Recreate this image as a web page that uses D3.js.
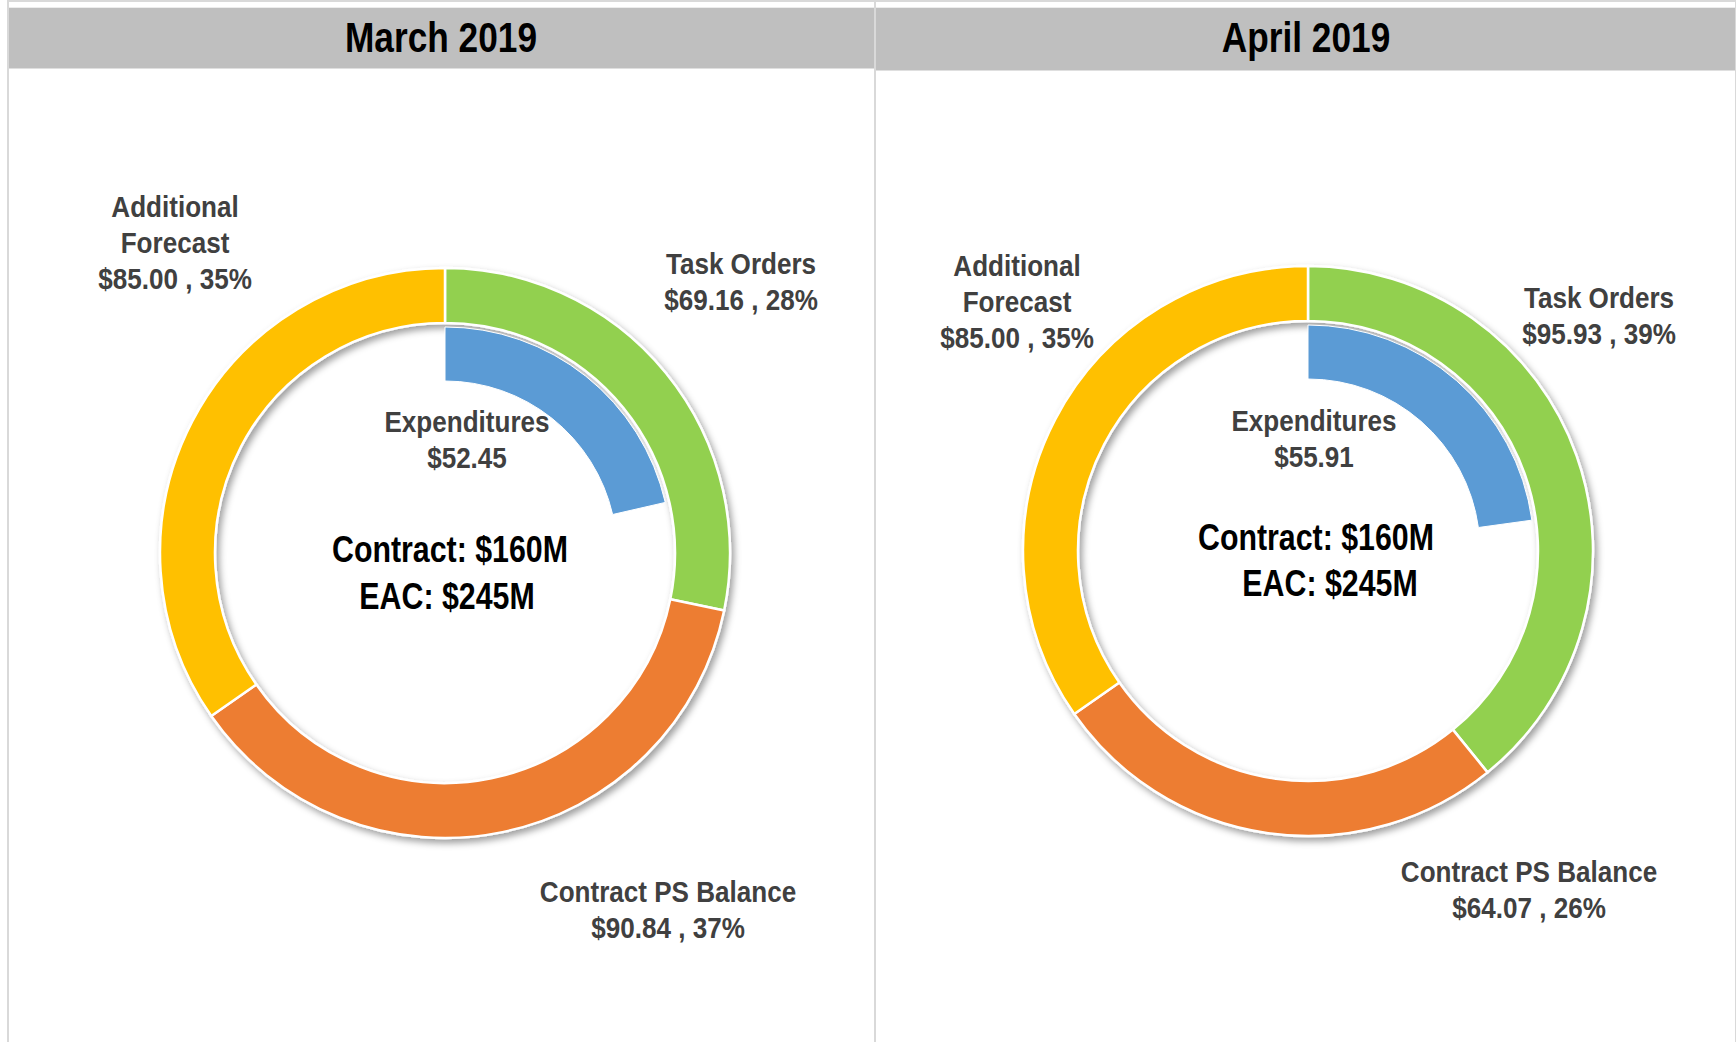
<!DOCTYPE html>
<html>
<head>
<meta charset="utf-8">
<script src="https://cdn.jsdelivr.net/npm/d3@7"></script>
<style>
  html, body { margin: 0; padding: 0; background: #ffffff; }
  svg { display: block; }
  text { font-family: "Liberation Sans Narrow", "Arial Narrow", "Liberation Sans", Arial, sans-serif; font-weight: bold; }
</style>
</head>
<body>
<svg id="chart" width="1736" height="1042"></svg>
<script>
// ---------- DATA ----------
const months = ["March 2019", "April 2019"];
const segmentNames = ["Task Orders", "Contract PS Balance", "Additional Forecast"];
const marchValues = [69.16, 90.84, 85.00];
const aprilValues = [95.93, 64.07, 85.00];
const marchPercents = ["28%", "37%", "35%"];
const aprilPercents = ["39%", "26%", "35%"];
const expenditureValues = [52.45, 55.91];
const contractTotals = [160, 160];
const eacTotals = [245, 245];

// ---------- LAYOUT (positions / styles, not data) ----------
const W = 1736, H = 1042;
const colors = { "Task Orders": "#92D050", "Contract PS Balance": "#ED7D31", "Additional Forecast": "#FFC000", "Expenditures": "#5B9BD5" };
const panels = [
  { x0: 8, x1: 875, bandBottom: 68.5, cx: 445, cy: 553, titleX: 441, titleY: 52,
    labels: {
      "Task Orders": { x: 741, y: 273.5 },
      "Contract PS Balance": { x: 668, y: 901.5 },
      "Additional Forecast": { x: 175, y: 217 },
      "Expenditures": { x: 467, y: 432 }
    },
    contract: { x: 450, y: 561.5 }, eac: { x: 447, y: 609 } },
  { x0: 875, x1: 1736, bandBottom: 70.5, cx: 1308, cy: 551, titleX: 1306, titleY: 52,
    labels: {
      "Task Orders": { x: 1599, y: 307.5 },
      "Contract PS Balance": { x: 1529, y: 882 },
      "Additional Forecast": { x: 1017, y: 275.5 },
      "Expenditures": { x: 1314, y: 430.5 }
    },
    contract: { x: 1316, y: 550 }, eac: { x: 1330, y: 596 } }
];
const outerR = 285, outerInner = 230, blueOuter = 226, blueInner = 172;
const labelSize = 30, labelLH = 36, labelStretch = 1.06;

const svg = d3.select("#chart");

// drop shadow filter for outer ring
const defs = svg.append("defs");
const f = defs.append("filter").attr("id", "shadow").attr("x", "-20%").attr("y", "-20%").attr("width", "140%").attr("height", "140%");
f.append("feDropShadow").attr("dx", 3).attr("dy", 4).attr("stdDeviation", 3.5)
  .attr("flood-color", "#000").attr("flood-opacity", 0.38);

// probe narrow font
const probe = svg.append("text").attr("x", -1000).attr("y", -1000).style("font-size", "100px").text("Contract PS Balance");
const probeW = probe.node().getComputedTextLength();
probe.remove();
const sx = (probeW / 983.6) > 0.9 ? 0.82 : 1;

function addText(g, x, y, str, size, fill, stretch) {
  const s = sx * (stretch || 1);
  return g.append("text")
    .attr("transform", `translate(${x},${y}) scale(${s},1)`)
    .attr("text-anchor", "middle")
    .style("font-size", size + "px")
    .attr("fill", fill)
    .text(str);
}

const valuesByMonth = [marchValues, aprilValues];
const pctByMonth = [marchPercents, aprilPercents];

panels.forEach((p, i) => {
  const g = svg.append("g");
  // panel frame
  g.append("rect").attr("x", p.x0).attr("y", 1).attr("width", p.x1 - p.x0).attr("height", H + 10)
    .attr("fill", "#fff").attr("stroke", "#D9D9D9").attr("stroke-width", 2);
  // header band
  g.append("rect").attr("x", p.x0 + 1).attr("y", 7.7).attr("width", p.x1 - p.x0 - 2).attr("height", p.bandBottom - 7.7)
    .attr("fill", "#BFBFBF");
  addText(g, p.titleX, p.titleY, months[i], 43, "#000");

  const vals = valuesByMonth[i];
  const data = segmentNames.map((n, k) => ({ name: n, value: vals[k], pct: pctByMonth[i][k] }));
  const pie = d3.pie().sort(null).value(d => d.value);
  const arcOuter = d3.arc().innerRadius(outerInner).outerRadius(outerR);
  const ring = g.append("g").attr("transform", `translate(${p.cx},${p.cy})`);
  ring.append("g").attr("filter", "url(#shadow)")
    .selectAll("path").data(pie(data)).join("path")
    .attr("d", arcOuter)
    .attr("fill", d => colors[d.data.name])
    .attr("stroke", "#fff").attr("stroke-width", 2.5).attr("stroke-linejoin", "round");

  // inner expenditures arc
  const angle = d3.scaleLinear().domain([0, eacTotals[i]]).range([0, 2 * Math.PI]);
  const arcInner = d3.arc().innerRadius(blueInner).outerRadius(blueOuter);
  ring.append("path")
    .attr("d", arcInner({ startAngle: 0, endAngle: angle(expenditureValues[i]) }))
    .attr("fill", colors["Expenditures"])
    .attr("stroke", "#fff").attr("stroke-width", 1);

  // labels
  data.forEach(d => {
    const pos = p.labels[d.name];
    const lines = d.name === "Additional Forecast" ? ["Additional", "Forecast"] : [d.name];
    lines.push(`$${d.value.toFixed(2)} , ${d.pct}`);
    lines.forEach((ln, k) => addText(g, pos.x, pos.y + k * labelLH, ln, labelSize, "#404040", labelStretch));
  });
  const ep = p.labels["Expenditures"];
  addText(g, ep.x, ep.y, "Expenditures", labelSize, "#404040", labelStretch);
  addText(g, ep.x, ep.y + labelLH, `$${expenditureValues[i].toFixed(2)}`, labelSize, "#404040", labelStretch);

  addText(g, p.contract.x, p.contract.y, `Contract: $${contractTotals[i]}M`, 37, "#000");
  addText(g, p.eac.x, p.eac.y, `EAC: $${eacTotals[i]}M`, 37, "#000");
});
</script>
</body>
</html>
